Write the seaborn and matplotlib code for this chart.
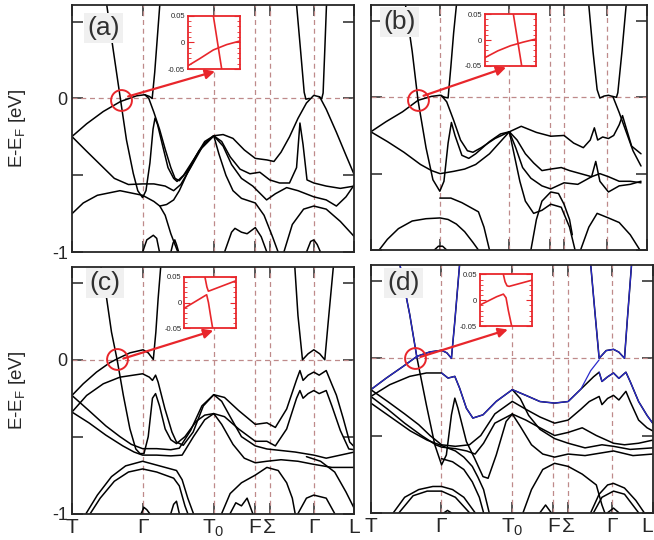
import numpy as np
import pandas as pd
import matplotlib
matplotlib.use("Agg")
import matplotlib.pyplot as plt
from matplotlib.ticker import MultipleLocator
import seaborn as sns

# high-symmetry points along the k-path (fraction of path length)
k_ticks = [0.0, 0.25, 0.502, 0.648, 0.70, 0.856, 1.0]
k_labels = ["T", "Γ", "T$_\\mathregular{0}$", "F", "Σ", "Γ", "L"]
e_ticks = [-1.0, -0.5, 0.0, 0.5]
e_labels = ["-1", "", "0", ""]

# band curves, (k, E-EF) pairs
bands_a = [
    [(0.123, 0.61), (0.146, 0.317), (0.172, -0.009), (0.193, -0.27), (0.217, -0.487), (0.233, -0.6), (0.25, -0.645),
     (0.262, -0.6), (0.276, -0.42), (0.287, -0.2), (0.294, -0.128), (0.303, -0.17), (0.32, -0.3), (0.34, -0.45),
     (0.36, -0.52), (0.372, -0.54), (0.395, -0.5), (0.43, -0.4), (0.47, -0.29), (0.502, -0.243)],
    [(0.0, -0.248), (0.052, -0.165), (0.111, -0.085), (0.172, -0.02), (0.229, 0.017), (0.258, 0.024), (0.274, 0.013),
     (0.284, 0.0), (0.293, 0.17), (0.302, 0.39), (0.311, 0.61)],
    [(0.258, 0.024), (0.272, 0.0), (0.29, -0.09), (0.31, -0.2), (0.33, -0.33), (0.35, -0.45), (0.365, -0.52),
     (0.38, -0.535), (0.41, -0.47), (0.44, -0.37), (0.47, -0.28), (0.502, -0.243)],
    [(0.0, -0.248), (0.05, -0.34), (0.1, -0.43), (0.15, -0.52), (0.2, -0.56), (0.25, -0.556), (0.29, -0.556),
     (0.33, -0.57), (0.36, -0.6), (0.385, -0.56), (0.42, -0.45), (0.46, -0.32), (0.502, -0.243)],
    [(0.0, -0.75), (0.04, -0.68), (0.09, -0.63), (0.17, -0.6), (0.25, -0.63), (0.29, -0.67), (0.311, -0.7),
     (0.335, -0.69), (0.36, -0.66), (0.38, -0.6), (0.41, -0.48), (0.45, -0.34), (0.502, -0.243)],
    [(0.311, -0.7), (0.33, -0.76), (0.35, -0.88), (0.375, -1.0)],
    [(0.25, -1.0), (0.265, -0.92), (0.288, -0.89), (0.3, -0.91), (0.31, -1.0)],
    [(0.35, -1.0), (0.358, -0.94), (0.364, -0.92), (0.37, -0.95), (0.378, -1.0)],
    [(0.502, -0.243), (0.535, -0.235), (0.57, -0.26), (0.61, -0.335), (0.649, -0.39), (0.69, -0.40), (0.715, -0.41),
     (0.74, -0.35), (0.77, -0.25), (0.80, -0.13), (0.83, -0.03), (0.856, 0.02), (0.877, 0.01), (0.90, -0.07),
     (0.936, -0.22), (0.97, -0.37), (1.0, -0.5)],
    [(0.502, -0.243), (0.53, -0.28), (0.56, -0.38), (0.595, -0.46), (0.63, -0.49), (0.665, -0.48), (0.70, -0.53),
     (0.735, -0.55), (0.77, -0.55), (0.795, -0.45), (0.807, -0.16), (0.818, -0.3), (0.832, -0.53), (0.856, -0.55),
     (0.90, -0.57), (0.95, -0.585), (1.0, -0.57)],
    [(0.502, -0.243), (0.535, -0.31), (0.565, -0.43), (0.60, -0.52), (0.64, -0.57), (0.689, -0.66), (0.72, -0.62),
     (0.76, -0.58), (0.80, -0.6), (0.856, -0.64), (0.90, -0.66), (0.936, -0.7), (0.97, -0.64), (1.0, -0.56)],
    [(0.502, -0.243), (0.52, -0.36), (0.545, -0.5), (0.57, -0.6), (0.6, -0.65), (0.649, -0.68), (0.68, -0.76),
     (0.71, -0.9), (0.73, -1.0)],
    [(0.54, -1.0), (0.565, -0.87), (0.577, -0.845), (0.6, -0.87), (0.62, -0.88), (0.649, -0.84), (0.67, -0.9),
     (0.69, -1.0)],
    [(0.795, 0.61), (0.809, 0.317), (0.822, 0.04), (0.828, -0.005), (0.84, 0.0)],
    [(0.901, 0.61), (0.895, 0.317), (0.889, 0.035), (0.884, -0.003), (0.874, 0.012)],
    [(0.83, -1.0), (0.845, -0.93), (0.856, -0.92), (0.868, -0.95), (0.88, -1.0)],
    [(0.75, -1.0), (0.78, -0.82), (0.82, -0.72), (0.856, -0.7), (0.9, -0.72), (0.95, -0.8), (1.0, -0.9)],
]

bands_b = [
    [(0.126, 0.6), (0.15, 0.3), (0.171, -0.02), (0.2, -0.33), (0.225, -0.54), (0.25, -0.615), (0.265, -0.55),
     (0.28, -0.3), (0.292, -0.165), (0.305, -0.25), (0.33, -0.38), (0.355, -0.40), (0.38, -0.37), (0.43, -0.29),
     (0.47, -0.24), (0.502, -0.226)],
    [(0.0, -0.226), (0.055, -0.16), (0.115, -0.095), (0.171, -0.02), (0.22, 0.006), (0.251, 0.013), (0.268, 0.0),
     (0.28, -0.004), (0.29, 0.2), (0.30, 0.42), (0.31, 0.6)],
    [(0.255, 0.013), (0.275, -0.03), (0.3, -0.15), (0.325, -0.28), (0.35, -0.35), (0.37, -0.36), (0.40, -0.33),
     (0.45, -0.27), (0.502, -0.226)],
    [(0.0, -0.226), (0.06, -0.29), (0.12, -0.36), (0.18, -0.44), (0.22, -0.48), (0.251, -0.5), (0.30, -0.485),
     (0.34, -0.47), (0.38, -0.44), (0.43, -0.37), (0.47, -0.29), (0.502, -0.226)],
    [(0.25, -0.66), (0.29, -0.66), (0.33, -0.69), (0.36, -0.72), (0.39, -0.75), (0.41, -0.85), (0.43, -1.0)],
    [(0.03, -1.0), (0.06, -0.93), (0.1, -0.86), (0.15, -0.81), (0.2, -0.795), (0.251, -0.79), (0.28, -0.8),
     (0.31, -0.83), (0.34, -0.88), (0.37, -0.95), (0.39, -1.0)],
    [(0.23, -1.0), (0.245, -0.975), (0.26, -0.975), (0.275, -1.0)],
    [(0.502, -0.226), (0.545, -0.19), (0.6, -0.23), (0.652, -0.255), (0.70, -0.25), (0.735, -0.3), (0.77, -0.33),
     (0.795, -0.28), (0.81, -0.2), (0.822, -0.28), (0.84, -0.26), (0.861, -0.27), (0.88, -0.25), (0.9, -0.18),
     (0.912, -0.12), (0.925, -0.2), (0.945, -0.32), (0.979, -0.37)],
    [(0.79, 0.6), (0.805, 0.3), (0.82, 0.05), (0.83, -0.005), (0.845, 0.008), (0.861, 0.013), (0.877, 0.005),
     (0.89, 0.0), (0.895, 0.03), (0.91, 0.3), (0.925, 0.6)],
    [(0.877, 0.005), (0.9, -0.1), (0.92, -0.2), (0.95, -0.35), (0.979, -0.45)],
    [(0.502, -0.226), (0.53, -0.28), (0.56, -0.37), (0.59, -0.43), (0.62, -0.48), (0.652, -0.47), (0.69, -0.46),
     (0.72, -0.48), (0.76, -0.50), (0.80, -0.52), (0.83, -0.50), (0.861, -0.52), (0.9, -0.55), (0.94, -0.55),
     (0.979, -0.56)],
    [(0.502, -0.226), (0.525, -0.33), (0.55, -0.46), (0.58, -0.53), (0.62, -0.58), (0.652, -0.60), (0.70, -0.56),
     (0.75, -0.57), (0.80, -0.52), (0.815, -0.42), (0.83, -0.55), (0.861, -0.62), (0.9, -0.58), (0.94, -0.57),
     (0.979, -0.55)],
    [(0.502, -0.226), (0.52, -0.38), (0.54, -0.55), (0.56, -0.68), (0.59, -0.76), (0.62, -0.74), (0.652, -0.7),
     (0.69, -0.72), (0.72, -0.85), (0.74, -1.0)],
    [(0.58, -1.0), (0.60, -0.8), (0.62, -0.68), (0.652, -0.62), (0.68, -0.63), (0.70, -0.7), (0.72, -0.8),
     (0.73, -0.9)],
    [(0.76, -1.0), (0.79, -0.85), (0.82, -0.76), (0.861, -0.79), (0.9, -0.82), (0.94, -0.9), (0.975, -1.0)],
]

bands_c = [
    [(0.103, 0.6), (0.123, 0.396), (0.14, 0.18), (0.16, 0.0), (0.182, -0.232), (0.205, -0.448), (0.226, -0.58),
     (0.241, -0.61), (0.255, -0.61), (0.27, -0.5), (0.285, -0.25), (0.296, -0.22), (0.31, -0.3), (0.33, -0.45),
     (0.35, -0.52), (0.37, -0.545), (0.40, -0.5), (0.44, -0.4), (0.47, -0.36), (0.502, -0.35)],
    [(0.0, -0.232), (0.04, -0.156), (0.087, -0.08), (0.134, -0.019), (0.16, 0.006), (0.205, 0.045), (0.252, 0.065),
     (0.27, 0.045), (0.288, 0.002), (0.297, 0.18), (0.305, 0.396), (0.314, 0.6)],
    [(0.0, -0.34), (0.052, -0.232), (0.111, -0.156), (0.17, -0.113), (0.25, -0.091), (0.274, -0.113),
     (0.285, -0.134), (0.296, -0.10), (0.305, -0.145), (0.329, -0.318), (0.354, -0.47), (0.37, -0.535),
     (0.394, -0.556), (0.429, -0.47), (0.465, -0.30), (0.502, -0.227)],
    [(0.0, -0.232), (0.06, -0.33), (0.12, -0.43), (0.17, -0.5), (0.21, -0.55), (0.25, -0.578), (0.3, -0.578),
     (0.35, -0.585), (0.38, -0.575), (0.42, -0.46), (0.46, -0.3), (0.502, -0.227)],
    [(0.0, -0.34), (0.06, -0.41), (0.12, -0.49), (0.18, -0.56), (0.22, -0.6), (0.25, -0.62), (0.3, -0.62),
     (0.35, -0.625), (0.39, -0.62), (0.43, -0.5), (0.47, -0.39), (0.502, -0.35)],
    [(0.05, -1.0), (0.09, -0.88), (0.14, -0.76), (0.19, -0.69), (0.25, -0.66), (0.29, -0.68), (0.33, -0.7),
     (0.37, -0.72), (0.39, -0.78), (0.41, -0.9), (0.43, -1.0)],
    [(0.065, -1.0), (0.1, -0.9), (0.15, -0.79), (0.2, -0.73), (0.25, -0.71), (0.3, -0.73), (0.33, -0.75),
     (0.36, -0.77), (0.38, -0.82), (0.40, -0.95), (0.41, -1.0)],
    [(0.245, -1.0), (0.255, -0.96), (0.265, -0.975), (0.275, -1.0)],
    [(0.35, -1.0), (0.36, -0.94), (0.37, -0.92), (0.38, -1.0)],
    [(0.502, -0.227), (0.54, -0.245), (0.59, -0.33), (0.649, -0.42), (0.69, -0.41), (0.72, -0.44), (0.76, -0.32),
     (0.795, -0.13), (0.807, -0.07), (0.818, -0.134), (0.836, -0.1), (0.856, -0.08), (0.875, -0.1), (0.9, -0.07),
     (0.92, -0.16), (0.936, -0.23), (0.96, -0.38), (0.983, -0.535), (1.0, -0.567)],
    [(0.502, -0.35), (0.54, -0.37), (0.59, -0.45), (0.649, -0.53), (0.69, -0.53), (0.72, -0.56), (0.76, -0.45),
     (0.795, -0.25), (0.807, -0.2), (0.818, -0.25), (0.836, -0.22), (0.856, -0.2), (0.875, -0.22), (0.9, -0.2),
     (0.92, -0.3), (0.95, -0.46), (0.98, -0.58), (1.0, -0.585)],
    [(0.789, 0.6), (0.8, 0.288), (0.816, 0.0), (0.836, 0.039), (0.856, 0.065), (0.877, 0.039), (0.895, 0.0),
     (0.907, 0.245), (0.925, 0.6)],
    [(0.502, -0.227), (0.53, -0.27), (0.56, -0.37), (0.6, -0.5), (0.649, -0.56), (0.69, -0.58), (0.74, -0.59),
     (0.79, -0.6), (0.856, -0.62), (0.9, -0.64), (0.95, -0.62), (1.0, -0.6)],
    [(0.502, -0.35), (0.53, -0.42), (0.57, -0.55), (0.61, -0.64), (0.649, -0.67), (0.69, -0.66), (0.74, -0.65),
     (0.8, -0.66), (0.856, -0.68), (0.92, -0.7), (1.0, -0.7)],
    [(0.53, -1.0), (0.56, -0.87), (0.6, -0.8), (0.649, -0.75), (0.69, -0.7), (0.73, -0.72), (0.76, -0.8),
     (0.78, -0.9), (0.79, -1.0)],
    [(0.56, -1.0), (0.58, -0.93), (0.6, -0.95), (0.62, -0.9), (0.64, -1.0)],
    [(0.8, -1.0), (0.83, -0.9), (0.856, -0.88), (0.9, -0.9), (0.93, -1.0)],
    [(0.83, -0.63), (0.88, -0.66), (0.93, -0.73), (0.97, -0.86), (1.0, -0.97)],
]

bands_d = [
    [(0.103, 0.608), (0.138, 0.284), (0.164, 0.0), (0.197, -0.301), (0.227, -0.56), (0.251, -0.69),
     (0.268, -0.626), (0.286, -0.366), (0.298, -0.258), (0.309, -0.323), (0.339, -0.539), (0.368, -0.647),
     (0.398, -0.766), (0.416, -0.777), (0.445, -0.626), (0.48, -0.409), (0.502, -0.361)],
    [(0.0, -0.203), (0.055, -0.128), (0.115, -0.052), (0.164, 0.013), (0.209, 0.041), (0.251, 0.052),
     (0.27, 0.035), (0.286, 0.0), (0.298, 0.24), (0.315, 0.608)],
    [(0.0, -0.247), (0.067, -0.171), (0.138, -0.117), (0.197, -0.095), (0.251, -0.095), (0.274, -0.128),
     (0.298, -0.117), (0.315, -0.193), (0.339, -0.323), (0.362, -0.387), (0.398, -0.366), (0.445, -0.279),
     (0.502, -0.203)],
    [(0.0, -0.203), (0.06, -0.28), (0.12, -0.36), (0.17, -0.43), (0.21, -0.5), (0.251, -0.56), (0.3, -0.57),
     (0.35, -0.56), (0.39, -0.5), (0.44, -0.36), (0.502, -0.279)],
    [(0.0, -0.247), (0.06, -0.33), (0.12, -0.42), (0.18, -0.5), (0.23, -0.56), (0.251, -0.575), (0.3, -0.585),
     (0.34, -0.6), (0.37, -0.62), (0.40, -0.55), (0.44, -0.42), (0.502, -0.361)],
    [(0.0, -0.29), (0.07, -0.38), (0.14, -0.47), (0.2, -0.53), (0.251, -0.565), (0.3, -0.6), (0.33, -0.64),
     (0.36, -0.7), (0.38, -0.77), (0.40, -0.85), (0.42, -1.0)],
    [(0.251, -0.65), (0.29, -0.67), (0.33, -0.72), (0.36, -0.8), (0.385, -0.9), (0.4, -1.0)],
    [(0.08, -1.0), (0.12, -0.9), (0.17, -0.85), (0.22, -0.83), (0.251, -0.83), (0.29, -0.85), (0.33, -0.9),
     (0.37, -1.0)],
    [(0.1, -1.0), (0.15, -0.89), (0.2, -0.86), (0.251, -0.86), (0.3, -0.9), (0.35, -1.0)],
    [(0.26, -1.0), (0.272, -0.985), (0.285, -1.0)],
    [(0.502, -0.203), (0.55, -0.24), (0.6, -0.28), (0.652, -0.29), (0.7, -0.28), (0.745, -0.2), (0.79, -0.12),
     (0.81, -0.09), (0.82, -0.15), (0.84, -0.12), (0.861, -0.095), (0.88, -0.13), (0.905, -0.09), (0.92, -0.15),
     (0.95, -0.28), (0.98, -0.37), (1.0, -0.42)],
    [(0.502, -0.279), (0.55, -0.33), (0.6, -0.38), (0.652, -0.42), (0.7, -0.4), (0.745, -0.33), (0.775, -0.28),
     (0.81, -0.247), (0.82, -0.3), (0.84, -0.26), (0.861, -0.24), (0.88, -0.27), (0.905, -0.214), (0.92, -0.28),
     (0.95, -0.4), (0.98, -0.45), (1.0, -0.47)],
    [(0.502, -0.361), (0.55, -0.4), (0.6, -0.45), (0.652, -0.5), (0.7, -0.48), (0.75, -0.45), (0.8, -0.5),
     (0.861, -0.55), (0.9, -0.56), (0.95, -0.55), (1.0, -0.53)],
    [(0.502, -0.203), (0.53, -0.26), (0.56, -0.37), (0.6, -0.46), (0.652, -0.52), (0.7, -0.55), (0.76, -0.58),
     (0.82, -0.56), (0.861, -0.57), (0.92, -0.59), (1.0, -0.58)],
    [(0.502, -0.361), (0.53, -0.44), (0.57, -0.56), (0.61, -0.62), (0.652, -0.64), (0.7, -0.62), (0.76, -0.63),
     (0.861, -0.6), (0.93, -0.63), (1.0, -0.62)],
    [(0.54, -1.0), (0.57, -0.85), (0.61, -0.72), (0.652, -0.68), (0.7, -0.7), (0.75, -0.75), (0.8, -0.82),
     (0.82, -0.95), (0.83, -1.0)],
    [(0.6, -1.0), (0.62, -0.95), (0.64, -1.0)],
    [(0.78, -1.0), (0.81, -0.88), (0.84, -0.82), (0.861, -0.81), (0.9, -0.84), (0.94, -0.92), (0.97, -1.0)],
    [(0.79, -1.0), (0.82, -0.9), (0.861, -0.86), (0.9, -0.88), (0.95, -1.0)],
    [(0.84, -1.0), (0.861, -0.97), (0.88, -1.0)],
    [(0.78, 0.608), (0.795, 0.3), (0.81, 0.0), (0.835, 0.05), (0.861, 0.058), (0.88, 0.04), (0.9, 0.0),
     (0.91, 0.25), (0.925, 0.608)],
]

# bands highlighted in blue in panel (d)
blue_d = [
    [(0.103, 0.608), (0.138, 0.284), (0.164, 0.0)],
    [(0.0, -0.203), (0.055, -0.128), (0.115, -0.052), (0.164, 0.013), (0.209, 0.041), (0.251, 0.052),
     (0.27, 0.035), (0.286, 0.0), (0.298, 0.24), (0.315, 0.608)],
    [(0.251, -0.095), (0.274, -0.128), (0.298, -0.117), (0.315, -0.193), (0.339, -0.323), (0.362, -0.387),
     (0.398, -0.366), (0.445, -0.279), (0.502, -0.203), (0.55, -0.24), (0.6, -0.28), (0.652, -0.29), (0.7, -0.28),
     (0.745, -0.2), (0.78, -0.08), (0.81, -0.01)],
    [(0.81, -0.09), (0.82, -0.15), (0.84, -0.12), (0.861, -0.095), (0.88, -0.13), (0.905, -0.09), (0.92, -0.15),
     (0.95, -0.28), (0.98, -0.37), (1.0, -0.42)],
    [(0.78, 0.608), (0.795, 0.3), (0.81, 0.0), (0.835, 0.05), (0.861, 0.058), (0.88, 0.04), (0.9, 0.0),
     (0.91, 0.25), (0.925, 0.608)],
]

# zoomed views near the Fermi crossing (inset x is arbitrary 0..1)
inset_a = [[(0.0, -0.044), (0.234, -0.030), (0.487, -0.014), (0.74, -0.004), (1.0, 0.003)],
           [(0.487, 0.05), (0.646, -0.05)]]
inset_b = [[(0.0, -0.034), (0.25, -0.021), (0.5, -0.011), (0.75, -0.004), (1.0, 0.002)],
           [(0.556, 0.05), (0.719, -0.05)]]
inset_c = [[(0.40, 0.05), (0.44, 0.03), (0.468, 0.022), (0.5, 0.023), (1.0, 0.042)],
           [(0.0, -0.011), (0.40, 0.013), (0.435, 0.015), (0.47, 0.0), (0.51, -0.025), (0.552, -0.05)]]
inset_d = [[(0.449, 0.05), (0.481, 0.036), (0.52, 0.028), (0.56, 0.027), (1.0, 0.039)],
           [(0.0, -0.009), (0.32, 0.007), (0.449, 0.012), (0.5, 0.005), (0.545, -0.02), (0.577, -0.035),
            (0.609, -0.05)]]

# Fermi-level crossing circled in each panel, and the arrow tip near the inset
circle_at = {"a": (0.172, -0.008), "b": (0.171, -0.02), "c": (0.158, 0.007), "d": (0.156, 0.004)}
arrow_from = {"a": (0.199, 0.013), "b": (0.191, 0.01), "c": (0.182, 0.008), "d": (0.176, 0.009)}
arrow_to = {"a": (0.506, 0.176), "b": (0.49, 0.195), "c": (0.50, 0.19), "d": (0.486, 0.186)}

RED = "#e8262b"
GRID = "#bf8a8a"

sns.set_style("ticks")
plt.rcParams["font.family"] = ["Liberation Sans", "DejaVu Sans"]
plt.rcParams["mathtext.fontset"] = "custom"
plt.rcParams["mathtext.rm"] = "Liberation Sans"
plt.rcParams["mathtext.it"] = "Liberation Sans"


def draw_bands(ax, bands, color, lw):
    rows = [(i, k, e) for i, band in enumerate(bands) for k, e in band]
    df = pd.DataFrame(rows, columns=["band", "k", "E"])
    sns.lineplot(data=df, x="k", y="E", units="band", estimator=None, sort=False,
                 color=color, lw=lw, ax=ax, legend=False, zorder=3)
    ax.set_xlabel("")
    ax.set_ylabel("")


def make_panel(fig, rect, bands, tag, label_xy, inset_rect, inset_lines, xmax=1.0,
               show_x=False, show_y=False, extra_blue=None):
    ax = fig.add_axes(rect)
    for k in k_ticks[1:-1]:
        ax.axvline(k, color=GRID, lw=0.9, ls=(0, (4, 3)), zorder=1)
    ax.axhline(0, color=GRID, lw=0.9, ls=(0, (4, 3)), zorder=1)
    draw_bands(ax, bands, "black", 1.1)
    if extra_blue is not None:
        draw_bands(ax, extra_blue, "#2a2acc", 0.9)
    ax.set_xlim(0, xmax)
    ax.set_ylim(-1.0, 0.605)
    ax.set_xticks(k_ticks)
    ax.set_yticks(e_ticks)
    ax.set_xticklabels(k_labels if show_x else [])
    ax.set_yticklabels(e_labels if show_y else [])
    ax.tick_params(direction="in", length=8, width=1.1, top=True, right=True, pad=3)
    ax.tick_params(axis="x", labelsize=15, pad=3)
    ax.tick_params(axis="y", labelsize=13, pad=3)
    for sp in ax.spines.values():
        sp.set_linewidth(1.3)
        sp.set_zorder(5)

    # circle + arrow
    cx, cy = circle_at[tag]
    ax.plot([cx], [cy], marker="o", ms=15, mfc="none", mec=RED, mew=1.4, zorder=6, clip_on=False)
    ax.annotate("", xy=arrow_to[tag], xytext=arrow_from[tag],
                arrowprops=dict(arrowstyle="-|>", color=RED, lw=1.6, mutation_scale=14,
                                shrinkA=0, shrinkB=0), zorder=6)

    ax.text(label_xy[0], label_xy[1], f"({tag})", transform=ax.transAxes, fontsize=19, color="#303030",
            ha="center", va="center", zorder=7,
            bbox=dict(boxstyle="square,pad=0.12", fc="#f0f0f0", ec="none"))

    ins = fig.add_axes(inset_rect)
    ins.set_facecolor("white")
    ins_rows = [(i, x, e) for i, line in enumerate(inset_lines) for x, e in line]
    ins_df = pd.DataFrame(ins_rows, columns=["seg", "x", "E"])
    sns.lineplot(data=ins_df, x="x", y="E", units="seg", estimator=None, sort=False,
                 color=RED, lw=1.2, ax=ins, legend=False)
    ins.set_xlabel("")
    ins.set_ylabel("")
    ins.set_xlim(0, 1)
    ins.set_ylim(-0.05, 0.05)
    ins.set_xticks([])
    ins.set_yticks([-0.05, 0.0, 0.05])
    ins.set_yticklabels(["-0.05", "0", "0.05"])
    ins.yaxis.set_minor_locator(MultipleLocator(0.01))
    ins.tick_params(axis="y", which="major", direction="in", length=4, width=0.8, color=RED,
                    right=True, labelsize=5.5, pad=2)
    ins.tick_params(axis="y", which="minor", direction="in", length=2.5, width=0.6, color=RED, right=True)
    for sp in ins.spines.values():
        sp.set_color(RED)
        sp.set_linewidth(1.3)
    return ax


fig = plt.figure(figsize=(6.54, 5.4), dpi=100)

make_panel(fig, [0.110, 0.533, 0.432, 0.457], bands_a, "a", (0.111, 0.909),
           [0.287, 0.872, 0.0805, 0.0987], inset_a, show_y=True)
make_panel(fig, [0.567, 0.537, 0.422, 0.454], bands_b, "b", (0.103, 0.93),
           [0.7416, 0.878, 0.078, 0.0957], inset_b, xmax=0.979)
make_panel(fig, [0.110, 0.049, 0.432, 0.457], bands_c, "c", (0.117, 0.934),
           [0.2818, 0.392, 0.0786, 0.0956], inset_c, show_x=True, show_y=True)
ax_d = make_panel(fig, [0.567, 0.0505, 0.431, 0.459], bands_d, "d", (0.115, 0.927),
                  [0.734, 0.396, 0.0795, 0.0957], inset_d, show_x=True, extra_blue=blue_d)
# last label sits against the figure edge
ax_d.get_xticklabels()[-1].set_horizontalalignment("right")

fig.text(0.026, 1 - 128 / 540, "E-E$_\\mathregular{F}$ [eV]", rotation=90, ha="center", va="center", fontsize=13.5)
fig.text(0.026, 1 - 390 / 540, "E-E$_\\mathregular{F}$ [eV]", rotation=90, ha="center", va="center", fontsize=13.5)

fig.savefig("out.png", dpi=100)
